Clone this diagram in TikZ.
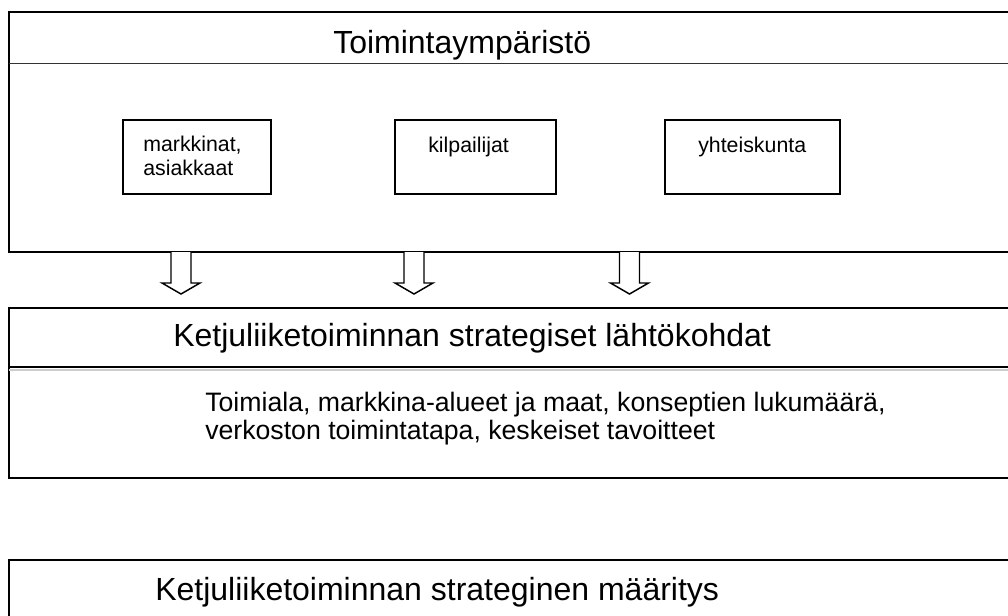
\documentclass[tikz,border=0pt]{standalone}
\usepackage{fontspec}
\setmainfont{Liberation Sans}
\begin{document}
\begin{tikzpicture}[x=0.75pt,y=-0.75pt,
  frame/.style={draw=black,line width=1.5pt},
  title/.style={anchor=base west,inner sep=0pt,font=\fontsize{24}{28}\selectfont},
  small/.style={anchor=base west,inner sep=0pt,align=left,font=\fontsize{16}{17.6}\selectfont},
  body/.style={anchor=base west,inner sep=0pt,align=left,font=\fontsize{20}{21}\selectfont}]
\useasboundingbox (0,0) rectangle (1008,615);
\clip (0,0) rectangle (1008,615);
% Toimintaympäristö
\draw[frame] (9,12) rectangle (1030,252);
\draw[line width=0.75pt,black!80] (9,63) -- (1030,63);
\node[title] (env) at (333,53) {Toimintaympäristö};
\draw[frame] (123,120) rectangle (271,194);
\draw[frame] (395,120) rectangle (556,194);
\draw[frame] (665,120) rectangle (840,194);
\node[small] (market) at (143,175) {markkinat,\\asiakkaat};
\node[small] (rivals) at (428,152) {kilpailijat};
\node[small] (society) at (698,152) {yhteiskunta};
% arrows down
\foreach \ax in {181,414,629.5}
  \draw[line width=1.1pt,fill=white] (\ax-10,252) -- (\ax-10,283) -- (\ax-19,283)
    -- (\ax,294) -- (\ax+19,283) -- (\ax+10,283) -- (\ax+10,252);
% lähtökohdat
\draw[frame] (9,308) rectangle (1030,478);
\draw[line width=1.5pt,black!20] (9,369.5) -- (1030,369.5);
\draw[line width=1.2pt] (9,367) -- (1030,367);
\node[title] (start) at (173,346) {Ketjuliiketoiminnan strategiset lähtökohdat};
\node[body] (facts) at (205,439) {Toimiala, markkina-alueet ja maat, konseptien lukumäärä,\\verkoston toimintatapa, keskeiset tavoitteet};
% määritys
\draw[frame] (9,560) rectangle (1030,640);
\node[title] (def) at (155,600) {Ketjuliiketoiminnan strateginen määritys};
\end{tikzpicture}
\end{document}
